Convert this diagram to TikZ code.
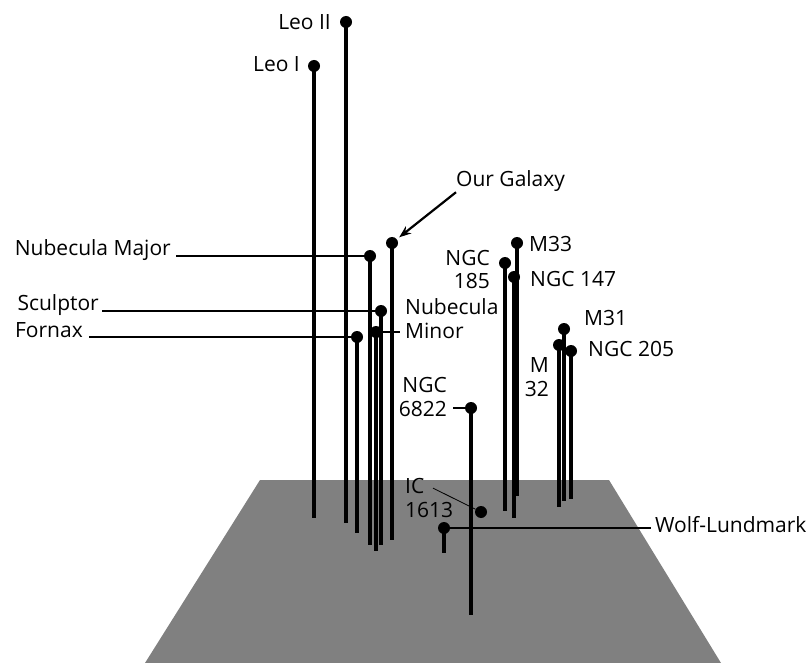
\documentclass[tikz,border=0pt]{standalone}
\usepackage{fontspec}
\setmainfont{Open Sans}
\usetikzlibrary{arrows.meta}

\begin{document}
\begin{tikzpicture}[x=1pt, y=-1pt,
dot/.style={circle, fill=black, inner sep=0pt, minimum size=12pt},
stalk/.style={line width=3.2pt},
lead/.style={line width=2.2pt},
thinlead/.style={line width=0.8pt},
lbl/.style={inner sep=0pt, font=\fontsize{21}{23.5}\selectfont},
plane/.style={fill=black!50},
]
\useasboundingbox (0,0) rectangle (809,663);
% the plane
\fill[plane] (260,480) -- (609,480) -- (721,663) -- (145,663) -- cycle;

% galaxies
\node[dot] (leoII) at (346,22) {};
\node[dot] (leoI) at (314,66) {};
\node[dot] (galaxy) at (392,243) {};
\node[dot] (nubmaj) at (370,256) {};
\node[dot] (sculptor) at (381,311) {};
\node[dot] (nubmin) at (376,332) {};
\node[dot] (fornax) at (357,337) {};
\node[dot] (m33) at (517,243) {};
\node[dot] (ngc185) at (505,263) {};
\node[dot] (ngc147) at (514,277) {};
\node[dot] (m31) at (564,329) {};
\node[dot] (m32) at (559,345) {};
\node[dot] (ngc205) at (571,351) {};
\node[dot] (ngc6822) at (471,408) {};
\node[dot] (ic1613) at (481,512) {};
\node[dot] (wolf) at (444,528) {};

% feet on the plane
\coordinate (leoIIb) at (346,523);
\coordinate (leoIb) at (314,518);
\coordinate (galaxyb) at (392,540);
\coordinate (nubmajb) at (370,545);
\coordinate (sculptorb) at (381,545);
\coordinate (nubminb) at (376,551);
\coordinate (fornaxb) at (357,533);
\coordinate (m33b) at (517,496);
\coordinate (ngc185b) at (505,511);
\coordinate (ngc147b) at (514,518);
\coordinate (m31b) at (564,501);
\coordinate (m32b) at (559,507);
\coordinate (ngc205b) at (571,499);
\coordinate (ngc6822b) at (471,615);
\coordinate (wolfb) at (444,553);

% labels (two-line ones sit on the baseline of their last line)
\node[lbl, anchor=base east] (leoIItxt) at (331,30) {Leo II};
\node[lbl, anchor=base east] (leoItxt) at (300,72) {Leo I};
\node[lbl, anchor=base west] (galtxt) at (456,187) {Our Galaxy};
\node[lbl, anchor=base east] (nubmajtxt) at (171,256) {Nubecula Major};
\node[lbl, anchor=base east] (sculptortxt) at (99,311) {Sculptor};
\node[lbl, anchor=base east] (fornaxtxt) at (83,337) {Fornax};
\node[lbl, anchor=base west, align=left] (nubmintxt) at (405,338) {Nubecula\\Minor};
\node[lbl, anchor=base east, align=right] (ngc185txt) at (490,289) {NGC\\185};
\node[lbl, anchor=base west] (m33txt) at (529,252) {M33};
\node[lbl, anchor=base west] (ngc147txt) at (530,287) {NGC 147};
\node[lbl, anchor=base west] (m31txt) at (584,326) {M31};
\node[lbl, anchor=base east, align=right] (m32txt) at (549,396) {M\\32};
\node[lbl, anchor=base west] (ngc205txt) at (588,356) {NGC 205};
\node[lbl, anchor=base east, align=right] (ngc6822txt) at (447,416) {NGC\\6822};
\node[lbl, anchor=base west, align=left] (ic1613txt) at (405,517) {IC\\1613};
\node[lbl, anchor=base west] (wolftxt) at (655,532) {Wolf-Lundmark};

% stalks
\draw[stalk] (leoII.center) -- (leoIIb);
\draw[stalk] (leoI.center) -- (leoIb);
\draw[stalk] (galaxy.center) -- (galaxyb);
\draw[stalk] (nubmaj.center) -- (nubmajb);
\draw[stalk] (sculptor.center) -- (sculptorb);
\draw[stalk] (nubmin.center) -- (nubminb);
\draw[stalk] (fornax.center) -- (fornaxb);
\draw[stalk] (m33.center) -- (m33b);
\draw[stalk] (ngc185.center) -- (ngc185b);
\draw[stalk] (ngc147.center) -- (ngc147b);
\draw[stalk] (m31.center) -- (m31b);
\draw[stalk] (m32.center) -- (m32b);
\draw[stalk] (ngc205.center) -- (ngc205b);
\draw[stalk] (ngc6822.center) -- (ngc6822b);
\draw[stalk] (wolf.center) -- (wolfb);

% leaders
\draw[lead, -{Stealth[length=12pt, width=9pt]}, shorten >=3pt] (galtxt.south west) -- (galaxy);
\draw[lead] ([xshift=5pt]nubmajtxt.east |- nubmaj) -- (nubmaj.center);
\draw[lead] ([xshift=3pt]sculptortxt.east |- sculptor) -- (sculptor.center);
\draw[lead] ([xshift=6pt]fornaxtxt.east |- fornax) -- (fornax.center);
\draw[lead] (nubmin.center) -- ([xshift=-5pt]nubmintxt.west |- nubmin);
\draw[lead] ([xshift=6pt]ngc6822txt.east |- ngc6822) -- (ngc6822.center);
\draw[thinlead] ([xshift=28pt, yshift=-10pt]ic1613txt.north west) -- (ic1613);
\draw[lead] (wolf.center) -- ([xshift=-4pt]wolftxt.west |- wolf);
\end{tikzpicture}
\end{document}
